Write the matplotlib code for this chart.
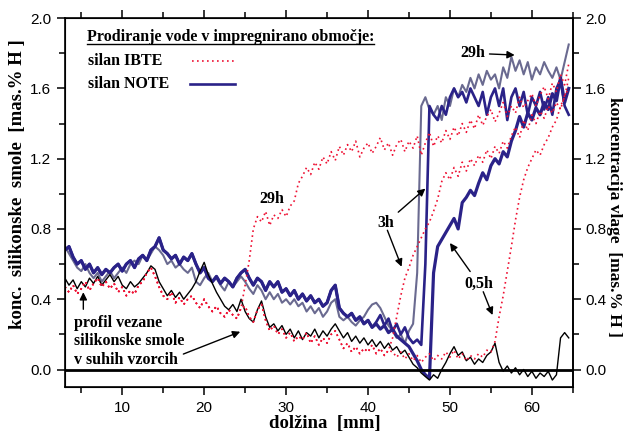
import numpy as np
import matplotlib
matplotlib.use("Agg")
import matplotlib.pyplot as plt
import matplotlib.ticker as mticker
from matplotlib.lines import Line2D

# sampling positions along the sample [mm], one reading every 0.5 mm
pos = np.arange(3.0, 64.75, 0.5)

# bound silicone resin in dry samples (black line), 3.0 ... 64.5 mm
dry_profile = [
    0.52, 0.48, 0.51, 0.46, 0.50, 0.47, 0.52, 0.49, 0.53, 0.48,
    0.51, 0.54, 0.50, 0.53, 0.48, 0.46, 0.50, 0.47, 0.49, 0.52,
    0.55, 0.59, 0.57, 0.50, 0.46, 0.42, 0.45, 0.41, 0.44, 0.40,
    0.43, 0.46, 0.50, 0.56, 0.61, 0.54, 0.49, 0.44, 0.40, 0.36,
    0.34, 0.37, 0.33, 0.40, 0.33, 0.29, 0.27, 0.34, 0.39, 0.30,
    0.24, 0.26, 0.22, 0.25, 0.20, 0.23, 0.18, 0.22, 0.17, 0.21,
    0.19, 0.23, 0.18, 0.22, 0.19, 0.23, 0.26, 0.22, 0.18, 0.21,
    0.16, 0.19, 0.15, 0.18, 0.14, 0.17, 0.13, 0.16, 0.12, 0.15,
    0.11, 0.13, 0.09, 0.11, 0.07, 0.03, 0.01, -0.02, -0.04, -0.06,
    -0.03, -0.05, 0.00, 0.04, 0.09, 0.13, 0.08, 0.10, 0.05, 0.07,
    0.03, 0.06, 0.04, 0.08, 0.10, 0.15, 0.04, -0.01, 0.02, -0.02,
    0.01, -0.03, 0.00, -0.04, -0.01, -0.05, -0.02, -0.04, -0.01, -0.06,
    -0.03, 0.18, 0.21, 0.18,
]

# silan IBTE (red dotted): common part 3.0 ... 24.5 mm
ibte_low = [
    0.47, 0.44, 0.48, 0.43, 0.46, 0.50, 0.45, 0.49, 0.52, 0.47,
    0.50, 0.46, 0.49, 0.44, 0.47, 0.42, 0.45, 0.43, 0.48, 0.50,
    0.55, 0.58, 0.53, 0.47, 0.42, 0.40, 0.44, 0.38, 0.41, 0.37,
    0.40, 0.42, 0.38, 0.35, 0.40, 0.36, 0.33, 0.36, 0.32, 0.30,
    0.34, 0.31, 0.29, 0.35,
]
# 29h, 25.0 ... 64.5 mm
ibte_29h_tail = [
    0.48, 0.62, 0.80, 0.87, 0.84, 0.90, 0.82, 0.88, 0.86, 0.91,
    0.87, 0.93, 0.96, 1.06, 1.10, 1.15, 1.11, 1.18, 1.14, 1.21,
    1.17, 1.24, 1.19, 1.27, 1.22, 1.28, 1.24, 1.30, 1.21, 1.26,
    1.29, 1.23, 1.27, 1.32, 1.25, 1.29, 1.22, 1.28, 1.31, 1.24,
    1.30, 1.26, 1.33, 1.22, 1.29, 1.35, 1.27, 1.33, 1.29, 1.36,
    1.31, 1.38, 1.33, 1.40, 1.35, 1.42, 1.37, 1.45, 1.39, 1.44,
    1.48, 1.41, 1.46, 1.52, 1.44, 1.50, 1.46, 1.55, 1.49, 1.53,
    1.57, 1.50, 1.56, 1.61, 1.54, 1.63, 1.58, 1.68, 1.62, 1.74,
]
# 3h and 0,5h still together, 25.0 ... 42.5 mm
ibte_mid = [
    0.36, 0.30, 0.27, 0.34, 0.37, 0.28, 0.22, 0.25, 0.20, 0.23,
    0.18, 0.21, 0.16, 0.19, 0.17, 0.21, 0.15, 0.19, 0.14, 0.18,
    0.15, 0.20, 0.22, 0.17, 0.12, 0.15, 0.10, 0.13, 0.09, 0.12,
    0.10, 0.14, 0.09, 0.12, 0.08, 0.11,
]
# 43.0 ... 64.5 mm
ibte_3h_tail = [
    0.18, 0.30, 0.42, 0.52, 0.58, 0.65, 0.70, 0.75, 0.80, 0.84,
    0.90, 0.97, 1.07, 1.12, 1.08, 1.15, 1.10, 1.18, 1.13, 1.20,
    1.16, 1.22, 1.18, 1.25, 1.20, 1.27, 1.23, 1.30, 1.26, 1.33,
    1.38, 1.32, 1.42, 1.36, 1.45, 1.40, 1.47, 1.43, 1.50, 1.46,
    1.52, 1.48, 1.56, 1.60,
]
ibte_05h_tail = [
    0.10, 0.07, 0.10, 0.06, 0.09, 0.05, 0.08, 0.04, 0.07, 0.09,
    0.05, 0.08, 0.06, 0.10, 0.07, 0.11, 0.06, 0.09, 0.05, 0.08,
    0.06, 0.09, 0.07, 0.11, 0.10, 0.16, 0.30, 0.42, 0.56, 0.70,
    0.85, 0.98, 1.08, 1.15, 1.20, 1.25, 1.22, 1.28, 1.32, 1.38,
    1.42, 1.50, 1.55, 1.66,
]

# silan NOTE (navy): 3h and 0,5h together 3.0 ... 40.5 mm
note_low = [
    0.68, 0.70, 0.64, 0.60, 0.62, 0.57, 0.60, 0.55, 0.58, 0.54,
    0.57, 0.55, 0.58, 0.60, 0.56, 0.60, 0.62, 0.58, 0.63, 0.65,
    0.62, 0.68, 0.70, 0.75, 0.68, 0.66, 0.63, 0.65, 0.60, 0.64,
    0.62, 0.66, 0.60, 0.55, 0.58, 0.52, 0.50, 0.53, 0.49, 0.52,
    0.50, 0.47, 0.52, 0.55, 0.57, 0.52, 0.48, 0.52, 0.50, 0.45,
    0.50, 0.47, 0.50, 0.44, 0.46, 0.42, 0.45, 0.40, 0.43, 0.39,
    0.42, 0.38, 0.40, 0.36, 0.38, 0.45, 0.48, 0.35, 0.32, 0.30,
    0.32, 0.28, 0.30, 0.26, 0.28, 0.24,
]
# 41.0 ... 64.5 mm
note_3h_tail = [
    0.27, 0.31, 0.25, 0.29, 0.22, 0.26, 0.20, 0.24, 0.18, 0.15,
    0.17, 0.14, 0.60, 1.50, 1.45, 1.42, 1.50, 1.45, 1.55, 1.60,
    1.55, 1.58, 1.52, 1.60, 1.55, 1.50, 1.58, 1.45, 1.55, 1.60,
    1.50, 1.60, 1.42, 1.55, 1.60, 1.50, 1.58, 1.45, 1.55, 1.50,
    1.58, 1.48, 1.55, 1.45, 1.60, 1.65, 1.50, 1.45,
]
note_05h_tail = [
    0.26, 0.23, 0.25, 0.21, 0.23, 0.19, 0.17, 0.15, 0.13, 0.09,
    0.05, 0.00, -0.03, -0.05, 0.55, 0.70, 0.74, 0.78, 0.82, 0.86,
    0.80, 0.95, 0.98, 1.02, 0.99, 1.06, 1.12, 1.08, 1.16, 1.20,
    1.17, 1.24, 1.21, 1.30, 1.36, 1.44, 1.38, 1.46, 1.42, 1.49,
    1.45, 1.52, 1.48, 1.57, 1.53, 1.66, 1.52, 1.60,
]
# 29h (grey-blue), 3.0 ... 64.5 mm
note_29h = [
    0.70, 0.66, 0.62, 0.58, 0.56, 0.60, 0.55, 0.52, 0.55, 0.50,
    0.53, 0.56, 0.52, 0.55, 0.58, 0.55, 0.60, 0.62, 0.60, 0.65,
    0.62, 0.66, 0.70, 0.68, 0.65, 0.60, 0.62, 0.58, 0.60, 0.57,
    0.55, 0.58, 0.50, 0.48, 0.52, 0.55, 0.50, 0.52, 0.48, 0.45,
    0.50, 0.47, 0.50, 0.53, 0.50, 0.46, 0.43, 0.48, 0.45, 0.40,
    0.44, 0.40, 0.43, 0.38, 0.40, 0.37, 0.40, 0.36, 0.38, 0.33,
    0.36, 0.32, 0.35, 0.30, 0.33, 0.38, 0.40, 0.30, 0.28, 0.30,
    0.27, 0.25, 0.28, 0.30, 0.34, 0.37, 0.38, 0.35, 0.30, 0.25,
    0.22, 0.18, 0.20, 0.15, 0.22, 0.26, 0.55, 1.50, 1.55, 1.48,
    1.45, 1.50, 1.42, 1.55, 1.50, 1.60, 1.55, 1.62, 1.58, 1.66,
    1.60, 1.68, 1.62, 1.70, 1.65, 1.68, 1.60, 1.72, 1.66, 1.78,
    1.70, 1.76, 1.68, 1.75, 1.65, 1.72, 1.68, 1.75, 1.70, 1.66,
    1.72, 1.65, 1.75, 1.85,
]

ibte_29h = ibte_low + ibte_29h_tail
ibte_3h = ibte_low + ibte_mid + ibte_3h_tail
ibte_05h = ibte_low + ibte_mid + ibte_05h_tail
note_3h = note_low + note_3h_tail
note_05h = note_low + note_05h_tail

RED = "#ee1133"
NAVY = "#2a2288"
GREY = "#6a6a90"
DOTS = (0, (1, 2))
SERIF = "Liberation Serif"
SANS = "Liberation Sans"


def main():
    fig = plt.figure(figsize=(6.24, 4.32), dpi=100)
    ax = fig.add_axes([0.104, 0.104, 0.814, 0.854])

    # moisture profiles, blue first so the dots sit on top
    ax.plot(pos, note_29h, color=GREY, lw=1.5, zorder=2)
    ax.plot(pos, note_3h, color=NAVY, lw=1.9, zorder=3)
    ax.plot(pos, note_05h, color=NAVY, lw=2.3, zorder=3)
    ax.plot(pos, dry_profile, color="black", lw=1.0, zorder=4)
    for ser in (ibte_29h, ibte_3h, ibte_05h):
        ax.plot(pos, ser, color=RED, lw=1.2, ls=DOTS, zorder=5)

    ax.axhline(0.0, color="black", lw=2.0, zorder=6)

    ax.set_xlim(3, 65)
    ax.set_ylim(-0.1, 2.0)
    ax.xaxis.set_major_locator(mticker.MultipleLocator(10))
    ax.xaxis.set_minor_locator(mticker.MultipleLocator(5))
    ax.yaxis.set_major_locator(mticker.MultipleLocator(0.4))
    ax.yaxis.set_minor_locator(mticker.MultipleLocator(0.2))
    ax.yaxis.set_major_formatter(mticker.FormatStrFormatter("%.1f"))
    ax.tick_params(which="both", direction="out", top=True, width=1.1,
                   labelsize=11, pad=4)
    ax.tick_params(which="major", length=6)
    ax.tick_params(which="minor", length=4)
    for lab in ax.get_xticklabels() + ax.get_yticklabels():
        lab.set_fontfamily(SANS)
    for sp in ax.spines.values():
        sp.set_linewidth(1.2)

    ax2 = ax.twinx()
    ax2.set_ylim(ax.get_ylim())
    ax2.yaxis.set_major_locator(mticker.MultipleLocator(0.4))
    ax2.yaxis.set_minor_locator(mticker.MultipleLocator(0.2))
    ax2.yaxis.set_major_formatter(mticker.FormatStrFormatter("%.1f"))
    ax2.tick_params(which="both", direction="out", width=1.1,
                    labelsize=11, pad=3)
    ax2.tick_params(which="major", length=6)
    ax2.tick_params(which="minor", length=4)
    for lab in ax2.get_yticklabels():
        lab.set_fontfamily(SANS)
    ax2.spines["right"].set_linewidth(1.2)

    lbl = dict(fontfamily=SERIF, fontweight="bold", fontsize=13.5)
    ax.set_xlabel("dolžina  [mm]", **lbl)
    ax.xaxis.set_label_coords(0.512, -0.098)
    ax.xaxis.label.set_va("center")
    ax.set_ylabel("konc.  silikonske  smole  [mas.% H ]", **lbl)
    ax.yaxis.set_label_coords(-0.094, 0.55)
    ax.yaxis.label.set_va("center")
    ax2.set_ylabel("koncentracija vlage  [mas.% H ]", rotation=270,
                   fontfamily=SERIF, fontweight="bold", fontsize=12.5)
    ax2.yaxis.set_label_coords(1.081, 0.46)
    ax2.yaxis.label.set_va("center")

    # legend block, drawn by hand so the labels line up on the left
    key = dict(fontfamily=SERIF, fontweight="bold", fontsize=11.5,
               transform=ax.transAxes, va="center", ha="left", zorder=10)
    title = ax.text(0.043, 0.948, "Prodiranje vode v impregnirano območje:",
                    **key)
    ax.text(0.045, 0.883, "silan IBTE", **key)
    ax.text(0.045, 0.821, "silan NOTE", **key)
    ax.add_line(Line2D([0.25, 0.335], [0.883, 0.883], color=RED, lw=1.2,
                       ls=DOTS, transform=ax.transAxes))
    ax.add_line(Line2D([0.246, 0.335], [0.821, 0.821], color=NAVY, lw=1.9,
                       transform=ax.transAxes))

    note = dict(fontfamily=SERIF, fontweight="bold", fontsize=11.5)
    arrow = dict(arrowstyle="-|>", color="black", lw=1.0,
                 mutation_scale=11, shrinkA=1, shrinkB=0)
    ax.text(28.3, 0.97, "29h", ha="center", va="center", **note)
    ax.annotate("29h", xy=(57.9, 1.79), xytext=(52.8, 1.80),
                ha="center", va="center", arrowprops=arrow, **note)
    ax.annotate("3h", xy=(47.0, 1.03), xytext=(42.2, 0.835),
                ha="center", va="center", arrowprops=arrow, **note)
    ax.annotate("", xy=(44.1, 0.585), xytext=(42.3, 0.80),
                arrowprops=arrow)
    ax.annotate("0,5h", xy=(50.0, 0.72), xytext=(53.5, 0.49),
                ha="center", va="center", arrowprops=arrow, **note)
    ax.annotate("", xy=(55.2, 0.31), xytext=(54.0, 0.45),
                arrowprops=arrow)
    ax.text(4.15, 0.31, "profil vezane\nsilikonske smole\nv suhih vzorcih",
            ha="left", va="top", linespacing=1.2, **note)
    ax.annotate("", xy=(5.25, 0.44), xytext=(5.25, 0.335), arrowprops=arrow)
    ax.annotate("", xy=(24.4, 0.215), xytext=(17.3, 0.085), arrowprops=arrow)

    # underline the legend title
    fig.canvas.draw()
    bb = title.get_window_extent().transformed(fig.transFigure.inverted())
    fig.add_artist(Line2D([bb.x0, bb.x1], [bb.y0 + 0.003, bb.y0 + 0.003],
                          color="black", lw=1.0, transform=fig.transFigure))

    fig.savefig("out.png", dpi=100)
    plt.close(fig)


if __name__ == "__main__":
    main()
